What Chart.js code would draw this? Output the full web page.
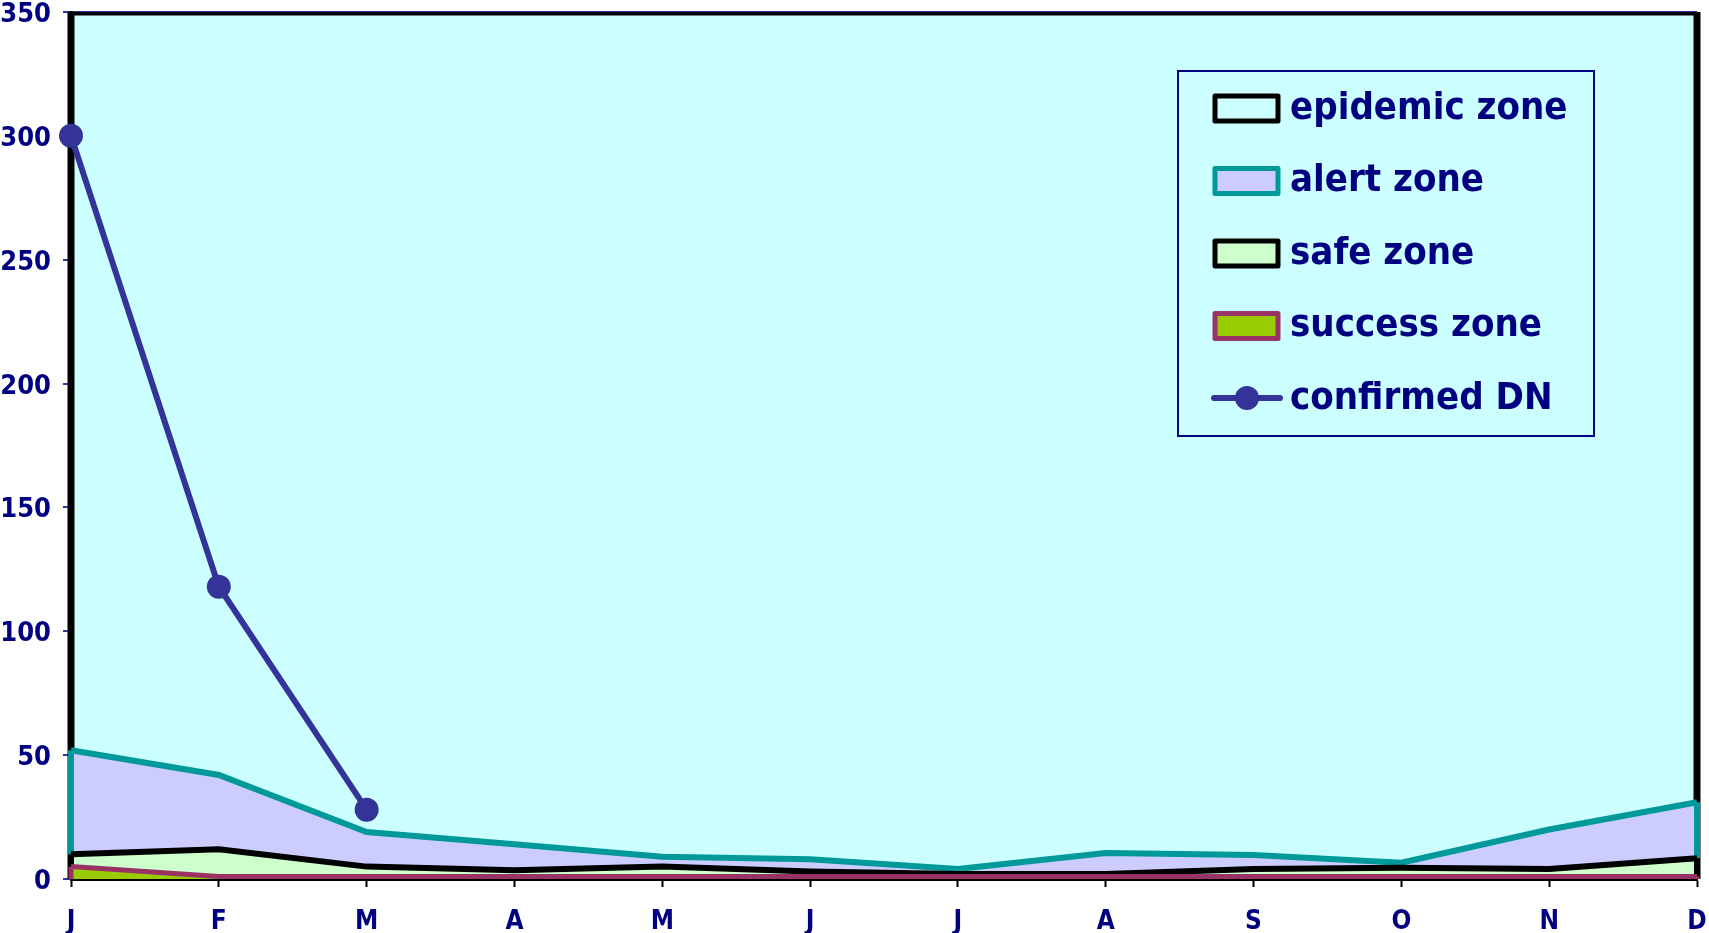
<!DOCTYPE html>
<html>
<head>
<meta charset="utf-8">
<script src="https://cdn.jsdelivr.net/npm/chart.js@4/dist/chart.umd.min.js"></script>
<style>
  html, body { margin: 0; padding: 0; background: #fff; }
  #wrap { width: 1709px; height: 933px; }
</style>
</head>
<body>
<div id="wrap"><canvas id="zones"></canvas></div>
<script>
const months = ['J', 'F', 'M', 'A', 'M', 'J', 'J', 'A', 'S', 'O', 'N', 'D'];
const epidemicZone = [350, 350, 350, 350, 350, 350, 350, 350, 350, 350, 350, 350];
const alertZone = [52, 42, 19, 14, 9, 8, 4, 10.5, 9.7, 6.6, 20, 31];
const safeZone = [10, 12, 5, 3.5, 5, 3, 2, 2, 4, 4.5, 4, 8.4];
const successZone = [5, 1, 1, 1, 1, 1, 1, 1, 1, 1, 1, 1];
const confirmedDN = [300, 118, 28, null, null, null, null, null, null, null, null, null];
const yTicks = [0, 50, 100, 150, 200, 250, 300, 350];

const navy = '#000080';
const fontFamily = '"DejaVu Sans Condensed", "DejaVu Sans", sans-serif';

// Excel draws the outline of every area, so add the vertical sides too
const areaEdges = {
    id: 'areaEdges',
    afterDatasetDraw(chart, args) {
        const ds = chart.data.datasets[args.index];
        if (!ds.edges) return;
        const ctx = chart.ctx;
        const x = chart.scales.x, y = chart.scales.y;
        const last = ds.data.length - 1;
        ctx.save();
        ctx.strokeStyle = ds.borderColor;
        ctx.lineWidth = ds.borderWidth;
        [0, last].forEach(i => {
            const px = x.getPixelForValue(i);
            ctx.beginPath();
            ctx.moveTo(px, y.getPixelForValue(0));
            ctx.lineTo(px, y.getPixelForValue(ds.data[i]));
            ctx.stroke();
        });
        ctx.restore();
    }
};

// legend box inside the plot, upper right
const boxLegend = {
    id: 'boxLegend',
    afterDraw(chart) {
        const ctx = chart.ctx;
        const left = 1178, top = 71, w = 416, h = 365;
        ctx.save();
        ctx.fillStyle = '#CCFFFF';
        ctx.fillRect(left, top, w, h);
        ctx.strokeStyle = navy;
        ctx.lineWidth = 2;
        ctx.strokeRect(left, top, w, h);
        ctx.font = 'bold 38px ' + fontFamily;
        ctx.textBaseline = 'middle';
        chart.data.datasets.forEach((ds, i) => {
            const cy = 108 + i * 72.5;
            if (ds.pointRadius) {
                ctx.strokeStyle = ds.borderColor;
                ctx.lineWidth = 6;
                ctx.lineCap = 'round';
                ctx.beginPath();
                ctx.moveTo(1214, cy);
                ctx.lineTo(1280, cy);
                ctx.stroke();
                ctx.fillStyle = ds.borderColor;
                ctx.beginPath();
                ctx.arc(1247, cy, 12, 0, Math.PI * 2);
                ctx.fill();
            } else {
                ctx.fillStyle = ds.backgroundColor;
                ctx.strokeStyle = ds.borderColor;
                ctx.lineWidth = 5;
                ctx.lineJoin = 'round';
                ctx.fillRect(1215, cy - 12, 63, 25);
                ctx.strokeRect(1215, cy - 12, 63, 25);
            }
            ctx.fillStyle = navy;
            ctx.fillText(ds.label, 1290, cy + 1);
        });
        ctx.restore();
    }
};

new Chart(document.getElementById('zones'), {
    type: 'line',
    data: {
        labels: months,
        datasets: [
            { label: 'epidemic zone', data: epidemicZone, borderColor: '#000000', backgroundColor: '#CCFFFF', borderWidth: 7, fill: 'origin', pointRadius: 0, order: 5, edges: true, tension: 0 },
            { label: 'alert zone', data: alertZone, borderColor: '#009999', backgroundColor: '#CCCCFF', borderWidth: 6, fill: 'origin', pointRadius: 0, order: 4, edges: true, tension: 0 },
            { label: 'safe zone', data: safeZone, borderColor: '#000000', backgroundColor: '#CCFFCC', borderWidth: 6, fill: 'origin', pointRadius: 0, order: 3, edges: true, tension: 0 },
            { label: 'success zone', data: successZone, borderColor: '#993366', backgroundColor: '#99CC00', borderWidth: 5, fill: 'origin', pointRadius: 0, order: 2, edges: true, tension: 0 },
            { label: 'confirmed DN', data: confirmedDN, borderColor: '#333399', backgroundColor: '#333399', borderWidth: 6, fill: false, pointRadius: 12, pointBorderWidth: 0, order: 1, tension: 0, clip: false }
        ]
    },
    options: {
        responsive: true,
        maintainAspectRatio: false,
        animation: false,
        layout: { padding: { top: 11, right: 11, left: 0, bottom: 0 } },
        plugins: {
            legend: { display: false },
            tooltip: { enabled: false }
        },
        scales: {
            x: {
                grid: { drawOnChartArea: false, drawTicks: true, tickLength: 8, tickColor: '#000000', tickWidth: 2 },
                border: { color: '#000000', width: 3 },
                ticks: { color: navy, font: { family: fontFamily, size: 26, weight: 'bold' }, padding: 20, maxRotation: 0, autoSkip: false },
                afterFit(scale) {
                    scale.height = 54;
                    scale.paddingLeft = 0;
                    scale.paddingRight = 0;
                }
            },
            y: {
                min: 0,
                max: 350,
                afterBuildTicks(scale) { scale.ticks = yTicks.map(v => ({ value: v })); },
                grid: { color: '#333399', lineWidth: 2, tickLength: 8, tickColor: '#333399' },
                border: { color: '#000000', width: 3 },
                ticks: { color: navy, font: { family: fontFamily, size: 27, weight: 'bold' }, padding: 12, labelOffset: 3 },
                afterFit(scale) {
                    scale.width = 71;
                    scale.paddingTop = 0;
                    scale.paddingBottom = 0;
                }
            }
        }
    },
    plugins: [areaEdges, boxLegend]
});
</script>
</body>
</html>
